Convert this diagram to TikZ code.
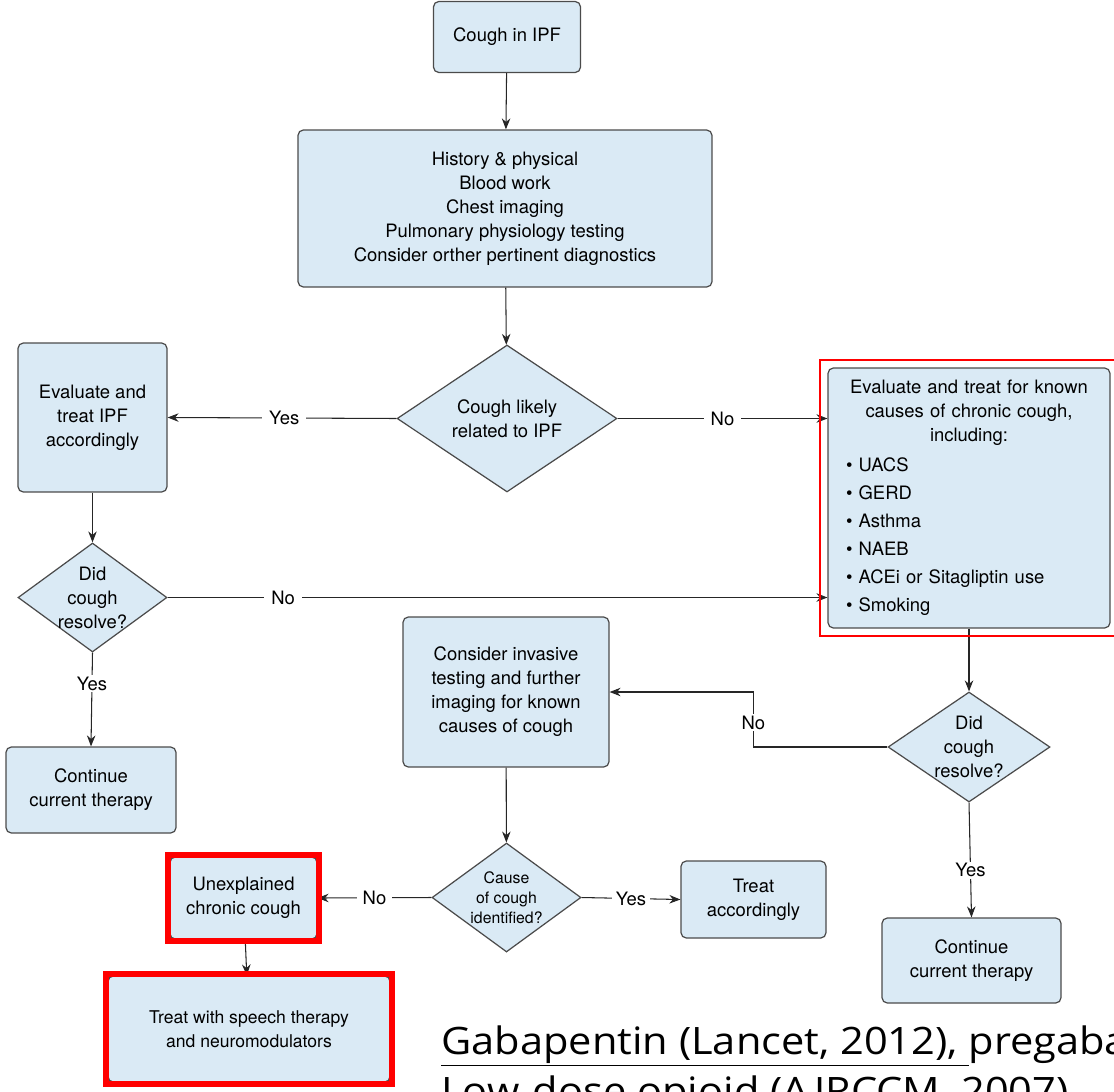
\documentclass[tikz,border=0pt]{standalone}
\usepackage{fontspec}
\setmainfont{TeX Gyre Heros}
\newfontfamily\notefont{Open Sans}
\usetikzlibrary{shapes.geometric, fit, arrows.meta}
\definecolor{boxfill}{RGB}{218,234,245}
\definecolor{boxline}{RGB}{75,75,75}
\definecolor{hilite}{RGB}{255,0,0}

\begin{document}
\begin{tikzpicture}[x=0.02cm, y=-0.02cm,
        font=\fontsize{10.5}{13.7}\selectfont,
        box/.style={draw=boxline, fill=boxfill, rounded corners=3pt, line width=0.7pt, align=center, inner sep=0pt},
        dia/.style={diamond, draw=boxline, fill=boxfill, line width=0.7pt, align=center, inner sep=-8pt},
        arr/.style={-{Stealth[length=2.2mm, width=1.7mm]}, line width=0.6pt, draw=black!85},
        lbl/.style={fill=white, inner xsep=4pt, inner ysep=1pt},
        frame/.style={draw=hilite, inner sep=1pt, line width=3.4pt},
        note/.style={anchor=base west, inner sep=0pt, font=\notefont\fontsize{21.5}{30}\selectfont, xscale=1.1, transform shape}]
        \clip (0,0) rectangle (1114,1091);

        \node[box, minimum width=2.94cm, minimum height=1.42cm] (cough) at (507,37) {Cough in IPF};
        \node[box, minimum width=8.28cm, minimum height=3.14cm] (hist) at (505,208.5) {History \& physical\\Blood work\\Chest imaging\\Pulmonary physiology testing\\Consider orther pertinent diagnostics};
        \node[dia, minimum width=4.4cm, minimum height=2.94cm] (likely) at (507,418.5) {Cough likely\\related to IPF};

        \node[box, minimum width=2.98cm, minimum height=2.98cm] (ipf) at (92.5,417.5) {Evaluate and\\treat IPF\\accordingly};
        \node[dia, minimum width=2.98cm, minimum height=2.18cm] (res1) at (92.5,597.5) {Did\\cough\\resolve?};
        \node[box, minimum width=3.4cm, minimum height=1.72cm] (cont1) at (91,790) {Continue\\current therapy};

        \node[box, minimum width=5.64cm, minimum height=5.2cm, text width=4.92cm, inner xsep=0.36cm, align=left] (known) at (969,498)
            {{\centering Evaluate and treat for known\\causes of chronic cough,\\including:\par}
             \vspace{3pt}\textbullet\ UACS\\[2.3pt] \textbullet\ GERD\\[2.3pt] \textbullet\ Asthma\\[2.3pt] \textbullet\ NAEB\\[2.3pt]
             \textbullet\ ACEi or Sitagliptin use\\[2.3pt] \textbullet\ Smoking};
        \node[dia, minimum width=3.24cm, minimum height=2.2cm] (res2) at (969,747) {Did\\cough\\resolve?};
        \node[box, minimum width=3.58cm, minimum height=1.7cm] (cont2) at (971.5,960.5) {Continue\\current therapy};

        \node[box, minimum width=4.12cm, minimum height=3.0cm] (inv) at (506,692) {Consider invasive\\testing and further\\imaging for known\\causes of cough};
        \node[dia, minimum width=2.98cm, minimum height=2.18cm, font=\fontsize{9}{11.5}\selectfont] (cause) at (506.5,897.5) {Cause\\of cough\\identified?};
        \node[box, minimum width=2.9cm, minimum height=1.54cm] (treat) at (753.5,899.5) {Treat\\accordingly};
        \node[box, minimum width=2.94cm, minimum height=1.64cm] (unexp) at (243.5,898) {Unexplained\\chronic cough};
        \node[box, minimum width=5.64cm, minimum height=2.12cm, font=\fontsize{10}{13.7}\selectfont] (speech) at (249,1029) {Treat with speech therapy\\and neuromodulators};

        \draw [arr] (cough)--(hist);
        \draw [arr] (hist)--(likely);
        \draw [arr] (likely.west)--node[lbl, pos=0.49]{Yes}(ipf.east);
        \draw [arr] (likely.east)--node[lbl]{No}(likely.east -| known.west);
        \draw [arr] (ipf)--(res1);
        \draw [arr] (res1.east)--node[lbl, pos=0.175]{No}(res1.east -| known.west);
        \draw [arr] (res1.south)--node[lbl, pos=0.33]{Yes}(cont1.north);
        \draw [arr] (known.south -| res2.north)--(res2.north);
        \draw [arr] (res2.west)--++(-134,0)|-node[lbl, pos=0.22]{No}(inv.east);
        \draw [arr] (res2.south)--node[lbl, pos=0.59]{Yes}(cont2.north);
        \draw [arr] (inv)--(cause);
        \draw [arr] (cause.west)--node[lbl, inner xsep=3pt]{No}(unexp.east);
        \draw [arr] (cause.east)--node[lbl, inner xsep=2pt]{Yes}(treat.west);
        \draw [arr] (unexp)--(speech);

        \node[fit=(known), draw=hilite, line width=1.2pt, inner sep=0.14cm] (knownFrame) {};
        \node[fit=(unexp), frame] (unexpFrame) {};
        \node[fit=(speech), frame] (speechFrame) {};

        \node[note] (ref1) at (441,1054) {\underline{Gabapentin (Lancet, 2012),\ }pregabalin};
        \node[note] (ref2) at (441,1104) {Low-dose opioid (AJRCCM, 2007)};
    \end{tikzpicture}
\end{document}
